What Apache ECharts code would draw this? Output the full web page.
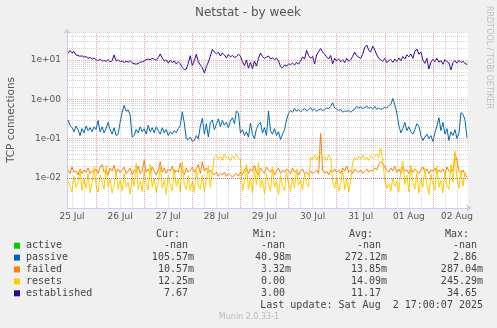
<!DOCTYPE html>
<html>
<head>
<meta charset="utf-8">
<title>Netstat - by week</title>
<script src="https://cdn.jsdelivr.net/npm/echarts@6/dist/echarts.min.js"></script>
<style>
  html, body { margin: 0; padding: 0; background: #F0F0F0; }
  #chart { width: 497px; height: 328px; }
</style>
</head>
<body>
<div id="chart"></div>
<script>
// Hourly samples; first sample is 25 Jul 10:00, hours counted from 25 Jul 00:00
const firstHour = 10;
const viewStartHour = 9.5;
const viewEndHour = 209.5;

// Day labels (each drawn at noon)
const dayLabels = ['25 Jul', '26 Jul', '27 Jul', '28 Jul', '29 Jul', '30 Jul', '31 Jul', '01 Aug', '02 Aug'];

// TCP connections per second
const passive = [
  0.30, 0.22, 0.19, 0.15, 0.21, 0.17, 0.12, 0.18, 0.14, 0.21, 0.16, 0.19, 0.15, 0.20,
  0.17, 0.29, 0.15, 0.20, 0.14, 0.18, 0.26, 0.17, 0.13, 0.19, 0.12, 0.13, 0.26, 0.47, 0.70, 0.50, 0.54, 0.40, 0.11, 0.12, 0.17, 0.14, 0.20, 0.15,
  0.18, 0.13, 0.22, 0.15, 0.19, 0.14, 0.20, 0.16, 0.13, 0.19, 0.14, 0.17, 0.12, 0.15, 0.13, 0.16, 0.14, 0.18, 0.22, 0.48, 0.25, 0.10, 0.095, 0.11,
  0.085, 0.09, 0.12, 0.10, 0.21, 0.33, 0.13, 0.24, 0.11, 0.26, 0.30, 0.17, 0.23, 0.32, 0.20, 0.29, 0.22, 0.26, 0.19, 0.28, 0.34, 0.24, 0.50, 0.45,
  0.14, 0.17, 0.12, 0.15, 0.11, 0.25, 0.13, 0.10, 0.18, 0.23, 0.26, 0.14, 0.19, 0.12, 0.50, 0.16, 0.13, 0.18, 0.12, 0.15, 0.095, 0.13, 0.17, 0.30,
  0.44, 0.52, 0.47, 0.58, 0.50, 0.55, 0.49, 0.53, 0.58, 0.51, 0.55, 0.62, 0.52, 0.56, 0.50, 0.54, 0.57, 0.52, 0.55, 0.60, 0.58, 0.66, 0.82, 0.60,
  0.56, 0.52, 0.55, 0.47, 0.51, 0.49, 0.53, 0.47, 0.52, 0.56, 0.66, 0.60, 0.64, 0.58, 0.62, 0.67, 0.59, 0.63, 0.57, 0.66, 0.56, 0.60, 0.55, 0.58,
  0.63, 0.61, 0.68, 0.74, 1.05, 0.72, 0.45, 0.22, 0.14, 0.18, 0.26, 0.16, 0.20, 0.15, 0.13, 0.17, 0.24, 0.21, 0.12, 0.09, 0.11, 0.13, 0.10, 0.12,
  0.085, 0.14, 0.21, 0.34, 0.16, 0.26, 0.13, 0.18, 0.09, 0.15, 0.12, 0.17, 0.10, 0.14, 0.46, 0.42, 0.30, 0.106
];

const failed = [
  0.016, 0.013, 0.019, 0.014, 0.015, 0.012, 0.017, 0.013, 0.016, 0.014, 0.018, 0.013, 0.015, 0.014,
  0.017, 0.013, 0.019, 0.022, 0.014, 0.016, 0.012, 0.018, 0.015, 0.021, 0.013, 0.017, 0.014, 0.016, 0.019, 0.013, 0.015, 0.018, 0.012, 0.016, 0.014, 0.020, 0.013, 0.015,
  0.028, 0.014, 0.017, 0.013, 0.019, 0.015, 0.012, 0.016, 0.026, 0.014, 0.018, 0.013, 0.017, 0.015, 0.020, 0.013, 0.016, 0.014, 0.024, 0.015, 0.012, 0.018, 0.014, 0.016,
  0.019, 0.014, 0.017, 0.022, 0.013, 0.026, 0.015, 0.018, 0.014, 0.016, 0.013, 0.012, 0.014, 0.011, 0.013, 0.012, 0.014, 0.011, 0.013, 0.012, 0.0105, 0.012, 0.013, 0.011,
  0.014, 0.012, 0.016, 0.019, 0.013, 0.017, 0.015, 0.021, 0.014, 0.012, 0.018, 0.015, 0.013, 0.019, 0.016, 0.014, 0.017, 0.012, 0.015, 0.018, 0.013, 0.016, 0.014, 0.017,
  0.015, 0.013, 0.018, 0.014, 0.016, 0.012, 0.015, 0.017, 0.013, 0.014, 0.012, 0.015, 0.013, 0.014, 0.016, 0.013, 0.135, 0.016, 0.013, 0.015, 0.012, 0.016, 0.014, 0.017,
  0.014, 0.016, 0.013, 0.018, 0.015, 0.020, 0.014, 0.016, 0.013, 0.017, 0.015, 0.014, 0.016, 0.013, 0.015, 0.017, 0.014, 0.016, 0.015, 0.018, 0.016, 0.022, 0.026, 0.024,
  0.019, 0.016, 0.014, 0.018, 0.015, 0.020, 0.014, 0.017, 0.013, 0.019, 0.015, 0.016, 0.013, 0.018, 0.014, 0.017, 0.015, 0.013, 0.016, 0.019, 0.014, 0.017, 0.013, 0.016,
  0.015, 0.018, 0.013, 0.016, 0.014, 0.017, 0.013, 0.019, 0.015, 0.014, 0.016, 0.042, 0.028, 0.015, 0.013, 0.016, 0.012, 0.0106
];

const resets = [
  0.0085, 0.0062, 0.0045, 0.011, 0.0058, 0.0075, 0.016, 0.0048, 0.0095, 0.0055, 0.013, 0.0042, 0.0072, 0.019,
  0.0065, 0.0044, 0.012, 0.0078, 0.0052, 0.021, 0.006, 0.0095, 0.0041, 0.0068, 0.015, 0.0052, 0.0088, 0.0046, 0.013, 0.0058, 0.0078, 0.0039, 0.011, 0.0062, 0.024, 0.0052, 0.0085, 0.0045,
  0.016, 0.0072, 0.0049, 0.022, 0.0058, 0.0098, 0.0042, 0.0075, 0.019, 0.0055, 0.0088, 0.0038, 0.012, 0.0066, 0.0047, 0.017, 0.0061, 0.0093, 0.0044, 0.026, 0.0068, 0.0052, 0.0115, 0.0047,
  0.0082, 0.0043, 0.018, 0.0064, 0.0052, 0.0118, 0.0045, 0.0088, 0.021, 0.0058, 0.014, 0.034, 0.038, 0.030, 0.036, 0.028, 0.041, 0.032, 0.035, 0.027, 0.037, 0.031, 0.039, 0.033,
  0.030, 0.0048, 0.0078, 0.022, 0.0052, 0.0098, 0.0041, 0.016, 0.0066, 0.025, 0.0056, 0.0092, 0.0039, 0.013, 0.0072, 0.0045, 0.019, 0.0058, 0.0085, 0.0037, 0.0115, 0.0063, 0.0048, 0.014,
  0.0072, 0.0046, 0.0105, 0.0055, 0.017, 0.0068, 0.0088, 0.0049, 0.013, 0.0075, 0.0058, 0.034, 0.030, 0.038, 0.029, 0.036, 0.044, 0.031, 0.035, 0.028, 0.039, 0.033, 0.0082, 0.0055,
  0.0105, 0.0046, 0.0072, 0.016, 0.0051, 0.0098, 0.0044, 0.0085, 0.025, 0.033, 0.029, 0.036, 0.031, 0.038, 0.030, 0.034, 0.028, 0.037, 0.032, 0.035, 0.041, 0.033, 0.058, 0.027,
  0.0085, 0.0055, 0.0072, 0.0046, 0.0098, 0.0062, 0.0084, 0.0043, 0.016, 0.027, 0.0068, 0.0118, 0.0045, 0.021, 0.0075, 0.0052, 0.0135, 0.0041, 0.0095, 0.0058, 0.018, 0.0066, 0.0038, 0.0125,
  0.0072, 0.0049, 0.0195, 0.0058, 0.0088, 0.0042, 0.0145, 0.0065, 0.0052, 0.022, 0.0078, 0.048, 0.0095, 0.0055, 0.016, 0.0062, 0.0135, 0.01225
];

const established = [
  14.8, 17.5, 15.2, 16.3, 13.4, 13.0, 12.4, 12.8, 11.8, 12.2, 11.0, 11.6, 10.5, 11.2,
  10.2, 9.6, 10.4, 9.3, 9.8, 9.1, 10.3, 9.0, 9.6, 13.4, 9.4, 10.0, 9.1, 9.4, 8.6, 9.3, 8.8, 9.6, 8.4, 8.0, 7.8, 8.2, 8.7, 9.0,
  9.5, 10.1, 10.6, 10.2, 11.0, 10.5, 9.8, 11.5, 14.2, 11.2, 9.4, 10.0, 8.3, 9.8, 8.6, 9.4, 7.9, 9.0, 8.1, 6.4, 5.7, 5.9, 8.2, 12.8,
  7.2, 9.6, 14.0, 9.0, 7.4, 6.3, 4.7, 6.8, 8.8, 12.5, 18.5, 16.0, 14.2, 15.8, 12.6, 15.0, 13.4, 11.2, 13.8, 12.0, 13.0, 11.6, 12.2, 14.0,
  12.5, 9.0, 7.2, 10.0, 6.2, 8.6, 6.0, 9.4, 7.0, 11.0, 15.0, 12.2, 11.0, 11.8, 12.6, 10.6, 11.3, 10.2, 11.0, 9.4, 6.8, 6.3, 7.4, 7.0,
  8.0, 7.6, 8.3, 7.4, 8.6, 7.9, 9.5, 12.0, 10.5, 17.5, 13.0, 11.0, 12.4, 7.9, 13.5, 16.2, 19.5, 16.0, 14.0, 12.0, 10.6, 13.0, 8.0, 11.0,
  9.5, 10.6, 9.0, 10.2, 8.6, 11.0, 9.2, 10.2, 12.4, 15.8, 12.8, 11.8, 11.0, 14.0, 21.0, 24.0, 17.5, 16.0, 22.5, 18.0, 13.5, 11.0, 10.0, 9.2,
  11.0, 8.6, 9.6, 10.3, 8.7, 10.6, 9.1, 11.2, 9.6, 12.2, 10.6, 13.5, 12.0, 14.2, 11.0, 16.5, 19.0, 14.0, 16.0, 10.0, 8.2, 11.0, 5.9, 8.8,
  10.4, 9.0, 11.0, 8.8, 9.6, 7.8, 10.2, 9.0, 8.4, 5.6, 8.6, 9.6, 8.3, 9.8, 8.6, 9.2, 8.2, 7.67
];

// Legend table
const legendNames = ['active', 'passive', 'failed', 'resets', 'established'];
const legendColors = ['#00CC00', '#0066B3', '#FF8000', '#FFCC00', '#330099'];
const curText = ['-nan ', '105.57m', '10.57m', '12.25m', '7.67 '];
const minText = ['-nan ', '40.98m', '3.32m', '0.00 ', '3.00 '];
const avgText = ['-nan ', '272.12m', '13.85m', '14.09m', '11.17 '];
const maxText = ['-nan ', '2.86 ', '287.04m', '245.29m', '34.65 '];
const columnHeads = ['Cur:', 'Min:', 'Avg:', 'Max:'];
const lastUpdate = 'Last update: Sat Aug  2 17:00:07 2025';

const yMin = 0.00173;
const yMax = 51.4;

const minorGrid = 'rgba(140,140,140,0.38)';
const majorGrid = 'rgba(230,70,70,0.5)';
const sans = 'DejaVu Sans';
const mono = 'DejaVu Sans Mono';

function toPairs(values) {
  return values.map((v, i) => [firstHour + i, v]);
}

// Grid lines: every 6 hours (midnight in red) and 1..9 per decade (decade in red)
const gridLines = [];
for (let h = 6; h < viewEndHour; h += 6) {
  if (h <= viewStartHour) continue;
  gridLines.push({ xAxis: h, lineStyle: { color: h % 24 === 0 ? majorGrid : minorGrid } });
}
for (let e = -3; e <= 1; e++) {
  for (let k = 1; k <= 9; k++) {
    const v = k * Math.pow(10, e);
    if (v < yMin || v > yMax) continue;
    gridLines.push({ yAxis: v, lineStyle: { color: k === 1 ? majorGrid : minorGrid } });
  }
}

function expLabel(v) {
  const e = Math.round(Math.log10(v));
  return '1e' + (e < 0 ? '-' : '+') + String(Math.abs(e)).padStart(2, '0');
}

const colRight = [194, 291, 387, 483];
const headRight = [180, 277, 373, 469];
const headY = 234;
const rowY0 = 245.7;
const rowStep = 11.9;

const graphics = [
  { type: 'text', x: 248, y: 13, style: { text: 'Netstat - by week', font: '12px "' + sans + '"', fill: '#555', align: 'center', verticalAlign: 'middle' } },
  { type: 'text', x: 489, y: 6, rotation: -Math.PI / 2, style: { text: 'RRDTOOL / TOBI OETIKER', font: '8px "' + sans + '"', fill: '#BDBDBD', align: 'left', verticalAlign: 'middle' } },
  { type: 'text', x: 11, y: 120, rotation: Math.PI / 2, style: { text: 'TCP connections', font: '10.5px "' + sans + '"', fill: '#555', align: 'center', verticalAlign: 'middle' } },
  { type: 'text', x: 249, y: 317, style: { text: 'Munin 2.0.33-1', font: '8px "' + sans + '"', fill: '#BBBBBB', align: 'center', verticalAlign: 'middle' } },
  { type: 'text', x: 483, y: rowY0 + rowStep * 5, style: { text: lastUpdate, font: '10px "' + mono + '"', fill: '#444', align: 'right', verticalAlign: 'middle' } }
];
columnHeads.forEach((t, c) => {
  graphics.push({ type: 'text', x: headRight[c], y: headY, style: { text: t, font: '10px "' + mono + '"', fill: '#444', align: 'right', verticalAlign: 'middle' } });
});
legendNames.forEach((name, r) => {
  const y = rowY0 + rowStep * r;
  graphics.push({ type: 'rect', shape: { x: 14, y: y - 3, width: 6, height: 6 }, style: { fill: legendColors[r] } });
  graphics.push({ type: 'text', x: 26, y: y, style: { text: name, font: '10px "' + mono + '"', fill: '#444', align: 'left', verticalAlign: 'middle' } });
  [curText, minText, avgText, maxText].forEach((col, c) => {
    graphics.push({ type: 'text', x: colRight[c], y: y, style: { text: col[r], font: '10px "' + mono + '"', fill: '#444', align: 'right', verticalAlign: 'middle' } });
  });
});

function lineSeries(name, values, color) {
  return {
    name: name,
    type: 'line',
    data: toPairs(values),
    showSymbol: false,
    symbol: 'none',
    lineStyle: { color: color, width: 1 },
    itemStyle: { color: color },
    z: 3
  };
}

const chart = echarts.init(document.getElementById('chart'), null, { renderer: 'canvas' });
chart.setOption({
  animation: false,
  backgroundColor: '#F0F0F0',
  graphic: graphics,
  grid: { left: 67, right: 29, top: 32, bottom: 120, show: true, backgroundColor: '#FFFFFF', borderWidth: 0 },
  xAxis: {
    type: 'value',
    min: viewStartHour,
    max: viewEndHour,
    splitLine: { show: false },
    axisTick: { show: false },
    axisLine: { show: true, onZero: false, lineStyle: { color: '#C8D0F0', width: 1 }, symbol: ['none', 'arrow'], symbolSize: [6, 6], symbolOffset: [0, 4] },
    axisLabel: {
      customValues: dayLabels.map((_, i) => 12 + 24 * i),
      formatter: v => dayLabels[Math.round((v - 12) / 24)],
      color: '#555', fontFamily: sans, fontSize: 9, margin: 4
    }
  },
  yAxis: {
    type: 'log',
    logBase: 10,
    min: yMin,
    max: yMax,
    splitLine: { show: false },
    axisTick: { show: false },
    axisLine: { show: true, lineStyle: { color: '#C8D0F0', width: 1 }, symbol: ['none', 'arrow'], symbolSize: [6, 6], symbolOffset: [0, 4] },
    axisLabel: { showMinLabel: false, showMaxLabel: false, formatter: expLabel, color: '#555', fontFamily: sans, fontSize: 9, margin: 6 }
  },
  series: [
    {
      name: 'grid', type: 'line', data: [], silent: true, z: 1,
      markLine: { silent: true, symbol: ['none', 'none'], label: { show: false }, animation: false,
        lineStyle: { type: [1, 1], width: 1 }, emphasis: { disabled: true }, data: gridLines }
    },
    lineSeries('passive', passive, '#0066B3'),
    lineSeries('failed', failed, '#FF8000'),
    lineSeries('resets', resets, '#FFCC00'),
    lineSeries('established', established, '#330099')
  ]
});
</script>
</body>
</html>
